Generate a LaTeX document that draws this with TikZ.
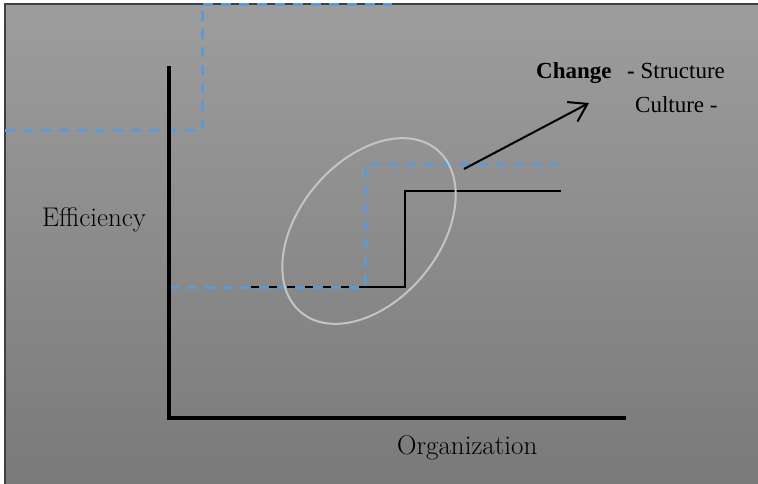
\documentclass[tikz,border=0pt]{standalone}
\usepackage{fontspec}
\newfontfamily\timesfont{Liberation Serif}
\usetikzlibrary{arrows.meta}
\definecolor{dashblue}{RGB}{91,155,213}
\definecolor{bgtop}{RGB}{157,157,157}
\definecolor{bgbottom}{RGB}{121,121,121}
\definecolor{ringgray}{RGB}{196,196,196}
\tikzset{
	bluestep/.style={dashblue,line width=3pt,dash pattern=on 10pt off 8pt},
	blackstep/.style={black,line width=1.5pt},
	axisline/.style={black,line width=4pt},
	axistext/.style={inner sep=0pt,anchor=base west,font=\fontsize{27}{32}\selectfont},
	changetext/.style={inner sep=0pt,anchor=base west,font=\timesfont\fontsize{23}{28}\selectfont},
}
\begin{document}
\begin{tikzpicture}[x=1pt,y=-1pt]
		\useasboundingbox (0,0) rectangle (758,483);
		\clip (0,0) rectangle (758,483);
		\shade[top color=bgtop,bottom color=bgbottom] (5,4) rectangle (770,495);
		\draw[line width=1.5pt,black!75] (5,495) -- (5,4) -- (770,4);

		% old and new levels
		\draw[blackstep] (249,287) -- (405,287) -- (405,191) -- (561,191);
		\draw[bluestep] (5,130) -- (202,130) -- (202,4) -- (392,4);
		\draw[bluestep] (169,287) -- (365,287) -- (365,164) -- (559,164);
		\draw[ringgray,line width=2pt,rotate around={50:(369,231)}] (369,231) ellipse [x radius=106, y radius=70];

		% axes
		\coordinate (ytop) at (169,66);
		\coordinate (origin) at (169,418);
		\coordinate (xend) at (626,418);
		\draw[axisline] (ytop) -- (origin) -- (xend);
		\node[axistext] (eff) at (42,226) {Efficiency};
		\node[axistext] (org) at (397,454) {Organization};

		% change
		\coordinate (tail) at (464,169);
		\coordinate (head) at (589,103);
		\draw[line width=2pt,-{Straight Barb[length=17pt,width=22pt]}] (tail) -- (head);
		\node[changetext] (change) at (536,78) {\bfseries Change};
		\node[changetext] (structure) at (627,78) {\textbf{-} Structure};
		\node[changetext] (culture) at (635,112) {Culture -};
	\end{tikzpicture}
\end{document}
